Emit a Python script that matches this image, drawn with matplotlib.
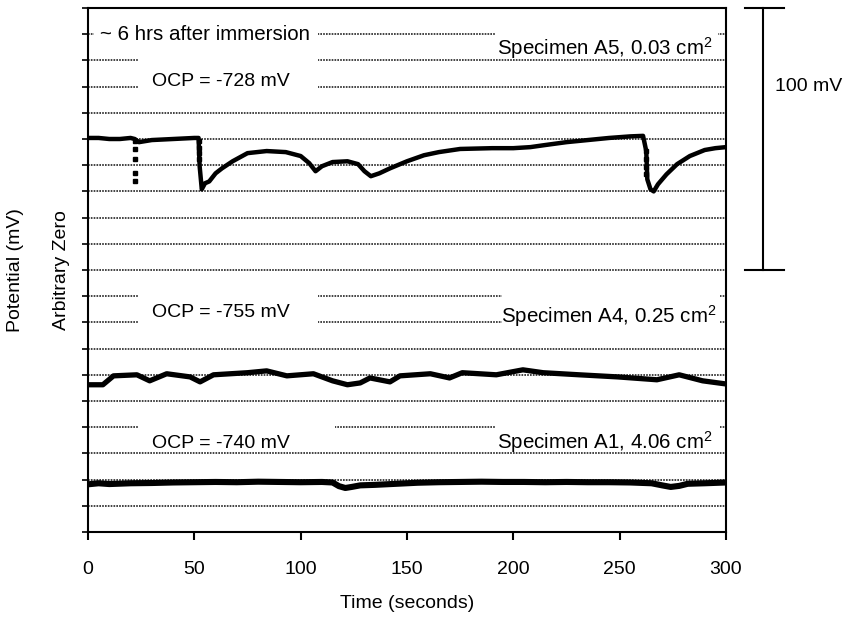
import matplotlib
matplotlib.use("Agg")
import matplotlib.pyplot as plt
from matplotlib.patches import Rectangle

plt.rcParams['font.family'] = ['Liberation Sans', 'DejaVu Sans']
plt.rcParams['mathtext.fontset'] = 'custom'
plt.rcParams['mathtext.rm'] = 'Liberation Sans'
plt.rcParams['mathtext.it'] = 'Liberation Sans'

# ---- Data (mV, arbitrary zero; each trace offset) ----
a5_t = [0, 5, 10, 15, 20, 22, 24, 30, 40, 50, 52,
        52.5, 53.5, 55, 57, 60, 63, 68, 75, 84, 93, 100, 104, 107, 110, 115,
        122, 127, 130, 133, 137, 142, 150, 158, 165, 175, 190, 200, 208, 215,
        225, 235, 245, 255, 261, 262.5,
        263, 264.5, 266, 268, 272, 277, 283, 290, 295, 300]
a5_v = [150.4, 150.4, 150.0, 150.0, 150.4, 150.0, 148.8, 149.6, 150.0, 150.4, 150.4,
        139.6, 130.8, 133.1, 133.8, 136.9, 138.8, 141.5, 144.6, 145.4, 145.0, 143.5, 140.8, 137.7, 139.6, 141.2,
        141.5, 140.4, 137.7, 135.8, 136.9, 138.8, 141.5, 143.8, 145.0, 146.2, 146.5, 146.5, 146.9, 147.7,
        148.8, 149.6, 150.4, 151.0, 151.2, 145.4,
        134.6, 130.8, 130.0, 132.7, 136.5, 140.4, 143.5, 145.8, 146.5, 146.9]
# sparse samples during fast transients
a5_dot_t = [22, 22, 22, 22, 22, 52, 52, 52, 52, 262.5, 262.5, 262.5, 262.5]
a5_dot_v = [149.2, 146.2, 142.3, 136.9, 133.8, 149.2, 146.5, 144.6, 142.3, 145.4, 142.3, 139.2, 136.5]

a4_t = [0, 7, 12, 23, 29, 37, 48, 52.7, 59, 75, 84, 93.5, 106, 115, 122, 128,
        132.6, 142, 146.7, 161, 170, 176, 192, 204.5, 214, 231, 249, 267.5, 278, 289, 300]
a4_v = [56.2, 56.2, 59.6, 60.0, 57.7, 60.4, 59.2, 57.3, 60.0, 60.8, 61.5, 59.6, 60.4, 57.7, 56.2, 56.9,
        58.8, 57.3, 59.6, 60.4, 58.8, 60.8, 60.0, 61.9, 60.8, 60.0, 59.2, 58.1, 60.0, 57.7, 56.5]

a1_t = [0, 5, 10, 20, 30, 40, 50, 60, 70, 80, 90, 100, 110, 115, 118, 121, 124, 128, 135,
        145, 155, 165, 175, 185, 195, 205, 215, 225, 235, 245, 255, 265, 270, 274, 278, 282, 290, 300]
a1_v = [18.2, 18.6, 18.3, 18.6, 18.7, 18.9, 19.0, 19.1, 19.0, 19.2, 19.1, 19.0, 19.1, 18.9, 17.5, 16.8, 17.2, 17.8, 18.0,
        18.4, 18.8, 19.0, 19.1, 19.2, 19.1, 19.1, 19.0, 19.1, 19.0, 19.0, 18.9, 18.6, 17.8, 17.2, 17.6, 18.4, 18.6, 18.9]

x_ticks = [0, 50, 100, 150, 200, 250, 300]
scale_bar = [100, 200]  # 100 mV

fig = plt.figure(figsize=(8.61, 6.18), dpi=100)
ax = fig.add_axes([88/861, 1-532/618, (726-88)/861, (532-8)/618])
ax.set_xlim(0, 300)
ax.set_ylim(0, 200)

ax.set_yticks(range(0, 201, 10))
ax.set_yticklabels([])
ax.yaxis.grid(True, linestyle=(0, (1, 0.7)), linewidth=1.2, color='#222222', zorder=0)
ax.set_axisbelow(True)
ax.set_xticks(x_ticks)
ax.tick_params(axis='x', direction='out', length=6, width=1.5, labelsize=14, pad=15)
ax.tick_params(axis='y', direction='out', length=4, width=1.2)
for s in ax.spines.values():
    s.set_linewidth(1.5)

# white boxes behind labels (hide gridlines)
def wbox(x0, x1, y0, y1):
    ax.add_patch(Rectangle((x0, y0), x1 - x0, y1 - y0, facecolor='white',
                           edgecolor='none', zorder=1))

wbox(2.8, 108.1, 185.4, 194.6)
wbox(23.5, 108.1, 165.4, 183.1)
wbox(191.8, 296.2, 181.5, 193.1)
wbox(23.5, 108.1, 74.6, 93.8)
wbox(194.6, 297.1, 74.6, 93.8)
wbox(23.5, 116.1, 35.5, 43.5)
wbox(191.3, 297.1, 35.5, 43.5)

# traces
ax.plot(a5_t, a5_v, color='black', lw=3.2, zorder=3, solid_capstyle='round')
ax.plot(a5_dot_t, a5_dot_v, 's', color='black', ms=2.5, zorder=3)
ax.plot(a4_t, a4_v, color='black', lw=3.8, zorder=3, solid_capstyle='round')
ax.plot(a1_t, a1_v, color='black', lw=4.4, zorder=3, solid_capstyle='round')

fs = 14
fs2 = 14.8
ax.text(5.6, 187.7, '~ 6 hrs after immersion', fontsize=fs2, va='baseline', ha='left', zorder=4)
ax.text(30.1, 170.4, 'OCP = -728 mV', fontsize=fs, va='baseline', ha='left', zorder=4)
ax.text(293.8, 182.3, 'Specimen A5, 0.03 cm$^2$', fontsize=fs2, va='baseline', ha='right', zorder=4)
ax.text(30.1, 81.9, 'OCP = -755 mV', fontsize=fs, va='baseline', ha='left', zorder=4)
ax.text(295.5, 80.0, 'Specimen A4, 0.25 cm$^2$', fontsize=fs2, va='baseline', ha='right', zorder=4)
ax.text(30.1, 31.9, 'OCP = -740 mV', fontsize=fs, va='baseline', ha='left', zorder=4)
ax.text(293.8, 31.9, 'Specimen A1, 4.06 cm$^2$', fontsize=fs2, va='baseline', ha='right', zorder=4)

# scale bar (outside the axes)
xb = 317.4
ax.plot([xb, xb], scale_bar, color='black', lw=1.5, clip_on=False)
ax.plot([309.0, 327.5], [scale_bar[1], scale_bar[1]], color='black', lw=1.5, clip_on=False)
ax.plot([309.0, 327.5], [scale_bar[0], scale_bar[0]], color='black', lw=1.5, clip_on=False)
ax.text(323.0, 170.0, '100 mV', fontsize=fs, va='center', ha='left', clip_on=False)

ax.set_xlabel('Time (seconds)', fontsize=fs, labelpad=12)
fig.text(16/861, 1-270/618, 'Potential (mV)', rotation=90, fontsize=fs, ha='center', va='center')
fig.text(62/861, 1-270/618, 'Arbitrary Zero', rotation=90, fontsize=fs, ha='center', va='center')

fig.savefig('out.png', dpi=100)
